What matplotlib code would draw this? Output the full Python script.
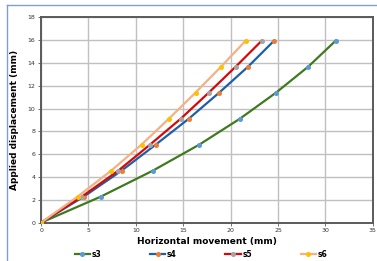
import matplotlib

matplotlib.use("Agg")

import matplotlib.pyplot as plt
from matplotlib.lines import Line2D

# applied displacement steps (mm)
disp = [0, 2.28, 4.56, 6.84, 9.12, 11.4, 13.68, 15.96]

# horizontal movement (mm) per specimen
s3 = [0, 6.3, 11.8, 16.7, 21.0, 24.8, 28.2, 31.1]
s4 = [0, 4.5, 8.5, 12.1, 15.6, 18.8, 21.85, 24.6]
s5 = [0, 4.3, 8.15, 11.5, 14.75, 17.7, 20.55, 23.3]
s6 = [0, 3.85, 7.4, 10.6, 13.5, 16.3, 19.0, 21.6]

series = [
    ("s3", s3, "#3f7a1f", "#5b9bd5"),
    ("s4", s4, "#1f5fa8", "#ed7d31"),
    ("s5", s5, "#d40a0a", "#a5a5a5"),
    ("s6", s6, "#f4b183", "#ffc000"),
]

fig = plt.figure(figsize=(3.77, 2.61), dpi=100)
ax = fig.add_axes([0.109, 0.147, 0.880, 0.787])

for name, xs, lc, mc in series:
    ax.plot(xs, disp, color=lc, linewidth=1.6, marker="o", markersize=2.6,
            markerfacecolor=mc, markeredgecolor=mc, label=name, zorder=3)

ax.set_xlim(0, 35)
ax.set_ylim(0, 18)
ax.set_xticks(range(0, 36, 5))
ax.set_yticks(range(0, 19, 2))
ax.grid(True, color="#c0c0c0", linewidth=1.0)
ax.set_axisbelow(True)
for sp in ax.spines.values():
    sp.set_color("#5a5a5a")
    sp.set_linewidth(1.4)
ax.tick_params(axis="both", labelsize=4.5, length=2, width=0.6, color="#5a5a5a",
               pad=2, labelcolor="#333333")
ax.set_xlabel("Horizontal movement (mm)", fontsize=6.5, fontweight="bold", labelpad=3)
ax.set_ylabel("Applied displacement (mm)", fontsize=6.5, fontweight="bold", labelpad=6)

fig.legend(loc="center", bbox_to_anchor=(0.533, 0.025), ncol=4, frameon=False,
           handlelength=2.0, columnspacing=6.4, handletextpad=0.2,
           borderaxespad=0, borderpad=0,
           prop={"weight": "bold", "size": 5.5})

# outer chart border
fig.add_artist(Line2D([7 / 377, 7 / 377], [0, 1 - 5 / 261], transform=fig.transFigure,
                      color="#7f9fcf", linewidth=1.0))
fig.add_artist(Line2D([7 / 377, 1], [1 - 5 / 261, 1 - 5 / 261], transform=fig.transFigure,
                      color="#7f9fcf", linewidth=1.0))

fig.savefig("out.png", dpi=100)
plt.close(fig)
